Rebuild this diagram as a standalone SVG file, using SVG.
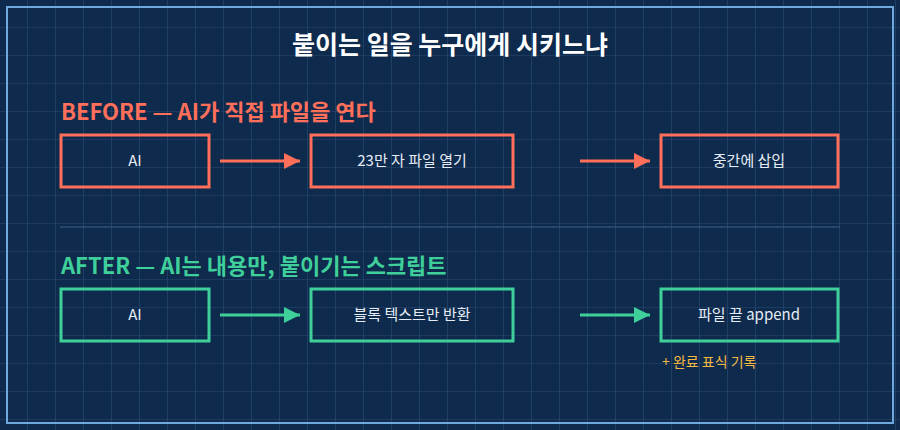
<svg xmlns="http://www.w3.org/2000/svg" width="900" height="430" viewBox="0 0 900 430">
<defs>
<pattern id="grid" width="28" height="28" patternUnits="userSpaceOnUse"><path d="M28 0V28M0 28H28" fill="none" stroke="#2b4b76" stroke-width="1.2"/></pattern>
<marker id="ar" viewBox="0 0 10 10" refX="10" refY="5" markerWidth="16" markerHeight="16" markerUnits="userSpaceOnUse" orient="auto"><path d="M0 0L10 5L0 10z" fill="#ff6f5a"/></marker>
<marker id="ag" viewBox="0 0 10 10" refX="10" refY="5" markerWidth="16" markerHeight="16" markerUnits="userSpaceOnUse" orient="auto"><path d="M0 0L10 5L0 10z" fill="#3ecf9a"/></marker>
</defs>
<style>
text{font-family:"Noto Sans CJK KR","Noto Sans",sans-serif}
.b{fill:none;stroke:#ff6f5a;stroke-width:3}
.g{fill:none;stroke:#3ecf9a;stroke-width:3}
.t{fill:#e6ecf5;font-size:15px;text-anchor:middle}
.ar{stroke:#ff6f5a;stroke-width:3;marker-end:url(#ar)}
.ag{stroke:#3ecf9a;stroke-width:3;marker-end:url(#ag)}
</style>
<rect width="900" height="430" fill="#0e2a4d"/>
<rect width="900" height="430" fill="url(#grid)"/>
<rect x="7" y="7" width="886" height="416" fill="none" stroke="#6fa8dc" stroke-width="2"/>
<text x="450" y="54" font-size="25" font-weight="bold" fill="#ffffff" text-anchor="middle">붙이는 일을 누구에게 시키느냐</text>
<text x="61" y="120" font-size="22" font-weight="bold" fill="#ff6f5a">BEFORE — AI가 직접 파일을 연다</text>
<line x1="60" y1="227" x2="840" y2="227" stroke="#2d4f7a" stroke-width="1.5"/>
<text x="61" y="274" font-size="22" font-weight="bold" fill="#3ecf9a">AFTER — AI는 내용만, 붙이기는 스크립트</text>
<g id="b1"><rect class="b" x="61" y="135" width="148" height="52"/><text class="t" x="135" y="166">AI</text></g>
<g id="b2"><rect class="b" x="311" y="135" width="202" height="52"/><text class="t" x="412" y="166">23만 자 파일 열기</text></g>
<g id="b3"><rect class="b" x="661" y="135" width="177" height="52"/><text class="t" x="749" y="166">중간에 삽입</text></g>
<g id="a1"><rect class="g" x="61" y="289" width="148" height="52"/><text class="t" x="135" y="320">AI</text></g>
<g id="a2"><rect class="g" x="311" y="289" width="202" height="52"/><text class="t" x="412" y="320">블록 텍스트만 반환</text></g>
<g id="a3"><rect class="g" x="661" y="289" width="177" height="52"/><text class="t" x="749" y="320">파일 끝 append</text>
<text x="662" y="367" font-size="14" fill="#f5b942">+ 완료 표식 기록</text></g>
<g id="connectors">
<line class="ar" x1="220" y1="161" x2="300" y2="161"/>
<line class="ar" x1="580" y1="161" x2="650" y2="161"/>
<line class="ag" x1="220" y1="315" x2="300" y2="315"/>
<line class="ag" x1="580" y1="315" x2="650" y2="315"/>
</g>
</svg>
